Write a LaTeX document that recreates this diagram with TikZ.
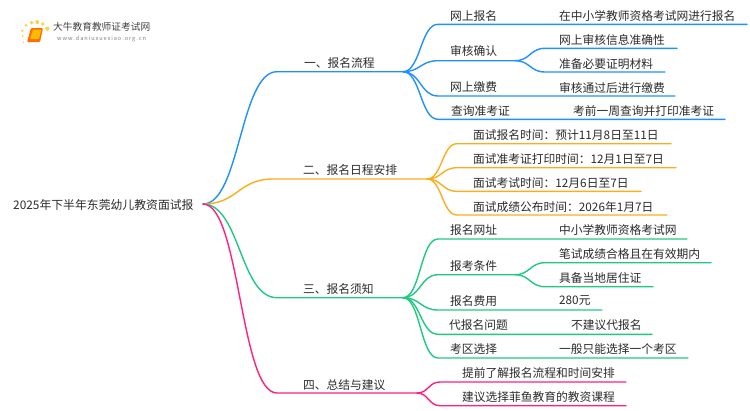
\documentclass[tikz,border=0pt]{standalone}
\usepackage{fontspec}
\usetikzlibrary{calc}
\setmainfont{Noto Sans CJK SC}
\definecolor{cblue}{HTML}{2090FF}
\definecolor{corange}{HTML}{FBAE1C}
\definecolor{cgreen}{HTML}{20C980}
\definecolor{cpink}{HTML}{FF2080}
\definecolor{ctext}{HTML}{2A2A2A}
\tikzset{
  lbl/.style={anchor=west,inner sep=0pt,text=ctext,yshift=-0.8pt,font=\fontsize{11.75}{12}\selectfont},
  wire/.style={line width=1.4pt,line cap=round},
}
% \stem{colour}{parent}{name}{x start}{x end}{y}
\newcommand{\stem}[6]{%
  \coordinate (#3-a) at (#4,#6);
  \coordinate (#3-b) at (#5,#6);
  \draw[wire,#1] let \p1=(#2),\p2=(#3-a) in (#2) .. controls ({0.5*\x1+0.5*\x2},\y1) and ({0.5*\x1+0.5*\x2},\y2) .. (#3-a) -- (#3-b);
}
\begin{document}
\begin{tikzpicture}[x=1pt,y=-1pt]
\useasboundingbox (0,0) rectangle (750,410);
% logo
\foreach \px/\py/\r in {31.6/22.7/1.9,37.3/22/2,42.7/24/1.9,47.3/28.7/2.1,26/25.3/1.5,22.3/30.7/1.3,22.7/36/1,23.3/42.3/.8}{
  \fill[yellow!55!orange!70] (\px,\py) circle (\r);
}
\fill[orange!85!red,rounded corners=1pt] (31,28) -- (43,28) -- (40,42) -- (27,42) -- cycle;
\fill[orange!55!yellow,rounded corners=.5pt] (33,29.5) -- (41.5,29.5) -- (39,39) -- (30,39) -- cycle;
\node[inner sep=0pt,anchor=west,text=black!75,font=\fontsize{9.7}{10}\selectfont] (logotitle) at (53,27) {大牛教育教师证考试网};
\node[inner sep=0pt,anchor=west,text=black!50,font=\fontsize{5.6}{6}\selectfont] (logourl) at (57,39) {w\,w\,w\,.\,d\,a\,n\,i\,u\,x\,u\,e\,x\,i\,a\,o\,.\,o\,r\,g\,.\,c\,n};
% root
\node[lbl,font=\fontsize{11.85}{12}\selectfont] (root) at (13,204) {2025年下半年东莞幼儿教资面试报};
\coordinate (r) at (203,204);
% blue
\stem{cblue}{r}{b}{277}{403}{71.7}
\stem{cblue}{b-b}{b1}{438}{747}{24.3}
\stem{cblue}{b-b}{b2}{438}{515}{60.7}
\stem{cblue}{b2-b}{b2a}{545}{677}{48.3}
\stem{cblue}{b2-b}{b2b}{545}{665}{72}
\stem{cblue}{b-b}{b3}{438}{675}{96}
\stem{cblue}{b-b}{b4}{438}{725}{119.3}
\node[lbl] (tb) at (304,62) {一、报名流程};
\node[lbl] (tb1) at (450,15) {网上报名};
\node[lbl] (tb1x) at (559,15) {在中小学教师资格考试网进行报名};
\node[lbl] (tb2) at (450,50) {审核确认};
\node[lbl] (tb2a) at (559,39) {网上审核信息准确性};
\node[lbl] (tb2b) at (559,63) {准备必要证明材料};
\node[lbl] (tb3) at (450,86) {网上缴费};
\node[lbl] (tb3x) at (559,87) {审核通过后进行缴费};
\node[lbl] (tb4) at (451,110) {查询准考证};
\node[lbl] (tb4x) at (573,110) {考前一周查询并打印准考证};
% orange
\stem{corange}{r}{o}{273}{427}{179}
\stem{corange}{o-b}{o1}{457}{671}{143.7}
\stem{corange}{o-b}{o2}{457}{676}{167.7}
\stem{corange}{o-b}{o3}{457}{641}{191.3}
\stem{corange}{o-b}{o4}{457}{667}{215}
\node[lbl] (to) at (303,169) {二、报名日程安排};
\node[lbl] (to1) at (473,134) {面试报名时间：预计11月8日至11日};
\node[lbl] (to2) at (473,158) {面试准考证打印时间：12月1日至7日};
\node[lbl] (to3) at (473,182) {面试考试时间：12月6日至7日};
\node[lbl] (to4) at (473,206) {面试成绩公布时间：2026年1月7日};
% green
\stem{cgreen}{r}{g}{277}{403}{297.7}
\stem{cgreen}{g-b}{g1}{438}{687}{239}
\stem{cgreen}{g-b}{g2}{438}{515}{274.7}
\stem{cgreen}{g2-b}{g2a}{545}{711}{262.7}
\stem{cgreen}{g2-b}{g2b}{545}{653}{286.7}
\stem{cgreen}{g-b}{g3}{438}{602}{310}
\stem{cgreen}{g-b}{g4}{438}{652}{334.3}
\stem{cgreen}{g-b}{g5}{438}{688}{358}
\node[lbl] (tg) at (303,288) {三、报名须知};
\node[lbl] (tg1) at (450,229) {报名网址};
\node[lbl] (tg1x) at (559,229) {中小学教师资格考试网};
\node[lbl] (tg2) at (450,265) {报考条件};
\node[lbl] (tg2a) at (559,253) {笔试成绩合格且在有效期内};
\node[lbl] (tg2b) at (559,277) {具备当地居住证};
\node[lbl] (tg3) at (450,300) {报名费用};
\node[lbl] (tg3x) at (559,300) {280元};
\node[lbl] (tg4) at (449,324) {代报名问题};
\node[lbl] (tg4x) at (571,324) {不建议代报名};
\node[lbl] (tg5) at (450,348) {考区选择};
\node[lbl] (tg5x) at (559,348) {一般只能选择一个考区};
% pink
\stem{cpink}{r}{p}{277}{417}{393}
\stem{cpink}{p-b}{p1}{440}{626}{382}
\stem{cpink}{p-b}{p2}{440}{626}{405.7}
\node[lbl] (tp) at (303,384) {四、总结与建议};
\node[lbl] (tp1) at (462,372) {提前了解报名流程和时间安排};
\node[lbl] (tp2) at (462,396) {建议选择菲鱼教育的教资课程};
\end{tikzpicture}
\end{document}
